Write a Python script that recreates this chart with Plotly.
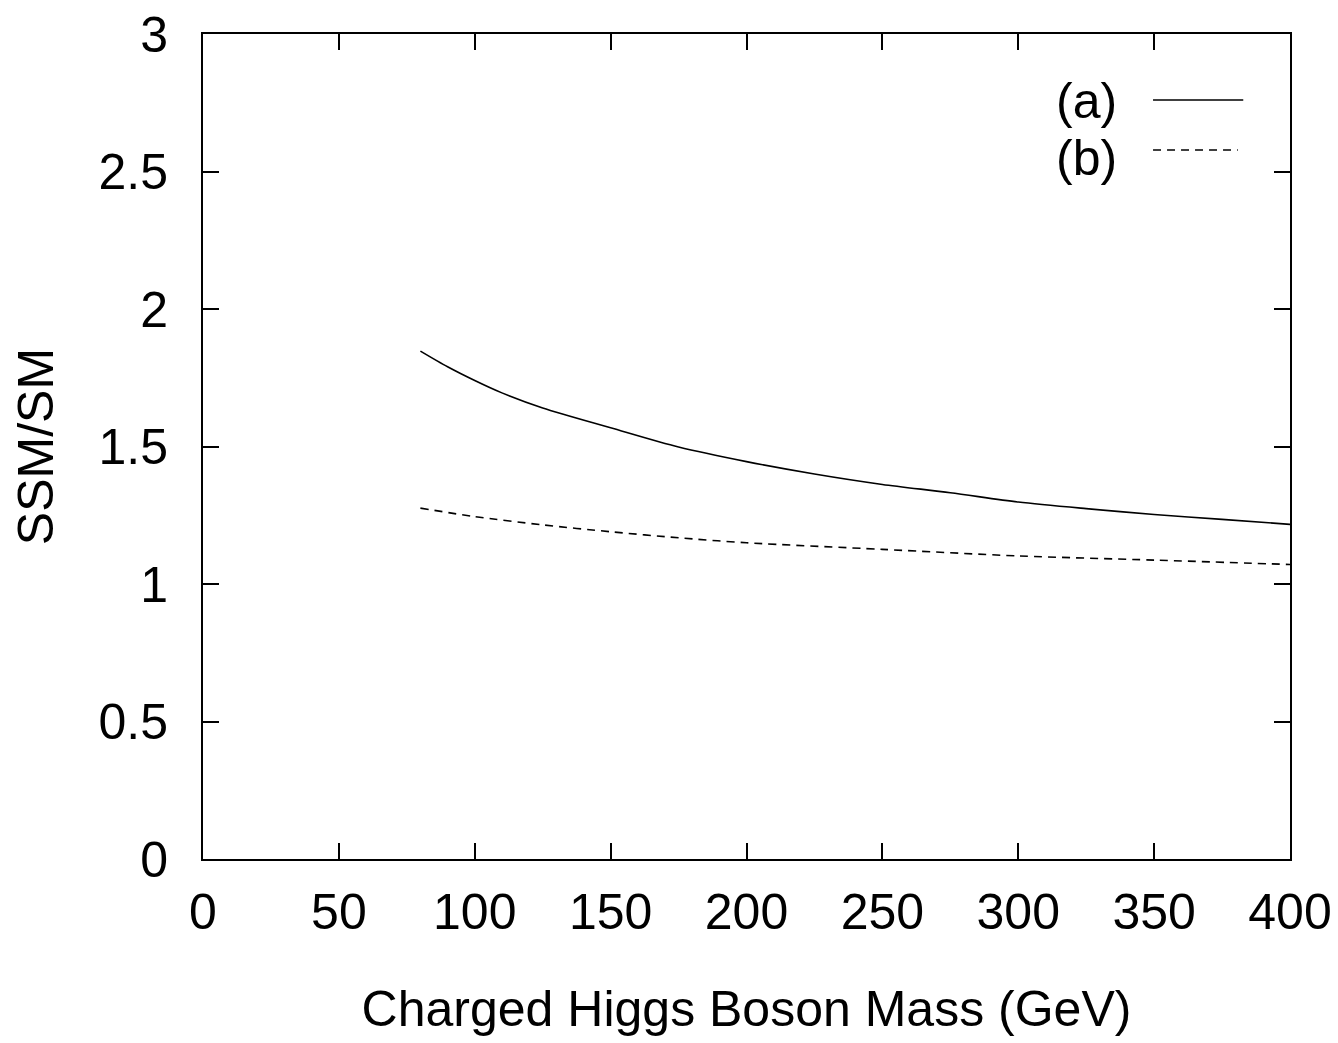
import plotly.graph_objects as go

mass_a = [80, 90, 100, 110, 125, 150, 175, 200, 225, 250, 275, 300, 325, 350, 375, 400]
ratio_a = [1.847, 1.79, 1.74, 1.695, 1.64, 1.568, 1.498, 1.445, 1.40, 1.362, 1.332, 1.298, 1.274, 1.253, 1.235, 1.217]

mass_b = [80, 100, 125, 150, 175, 200, 250, 300, 350, 400]
ratio_b = [1.276, 1.245, 1.215, 1.19, 1.168, 1.15, 1.126, 1.102, 1.087, 1.071]

x_ticks = [0, 50, 100, 150, 200, 250, 300, 350, 400]
y_ticks = [0, 0.5, 1, 1.5, 2, 2.5, 3]
y_tick_labels = ["0", "0.5", "1", "1.5", "2", "2.5", "3"]

FONT = "Liberation Sans, Arial, sans-serif"
FS = 50

fig = go.Figure()
fig.add_trace(go.Scatter(x=mass_a, y=ratio_a, mode="lines", name="(a)",
                         line=dict(color="black", width=1.6, shape="spline", smoothing=0.8)))
fig.add_trace(go.Scatter(x=mass_b, y=ratio_b, mode="lines", name="(b)",
                         line=dict(color="black", width=1.6, dash="8px,6px", shape="spline", smoothing=0.8)))

axis_common = dict(showgrid=False, zeroline=False, showline=True, linecolor="black",
                   linewidth=2, mirror="allticks", ticks="inside", ticklen=16,
                   tickwidth=2, tickcolor="black", ticklabeloverflow="allow",
                   automargin=False,
                   tickfont=dict(family=FONT, size=FS, color="black"))

fig.update_xaxes(range=[0, 400], tickvals=x_ticks, ticklabelstandoff=8,
                 title=dict(text="Charged Higgs Boson Mass (GeV)", standoff=52,
                            font=dict(family=FONT, size=FS, color="black")),
                 **axis_common)
fig.update_yaxes(range=[0, 3], tickvals=y_ticks, ticktext=y_tick_labels, ticklabelstandoff=23,
                 title=dict(text="SSM/SM", standoff=44,
                            font=dict(family=FONT, size=FS, color="black")),
                 **axis_common)

# gnuplot-style legend: text on left, line sample on right
legend_items = [("(a)", 0.9185, 0.92, None, 0.957), ("(b)", 0.8497, 0.8594, "8px,6px", 0.952)]
for label, ty, ly, dash, x1 in legend_items:
    fig.add_annotation(x=0.843, y=ty, xref="paper", yref="paper", text=label,
                       showarrow=False, xanchor="right", yanchor="middle",
                       font=dict(family=FONT, size=FS, color="black"))
    fig.add_shape(type="line", xref="paper", yref="paper", x0=0.874, x1=x1,
                  y0=ly, y1=ly, line=dict(color="black", width=1.6, dash=dash))

fig.update_layout(width=1338, height=1043, showlegend=False,
                  paper_bgcolor="white", plot_bgcolor="white",
                  margin=dict(l=195, r=56, t=26, b=192),
                  font=dict(family=FONT, color="black"))

fig.write_html("out.html")
